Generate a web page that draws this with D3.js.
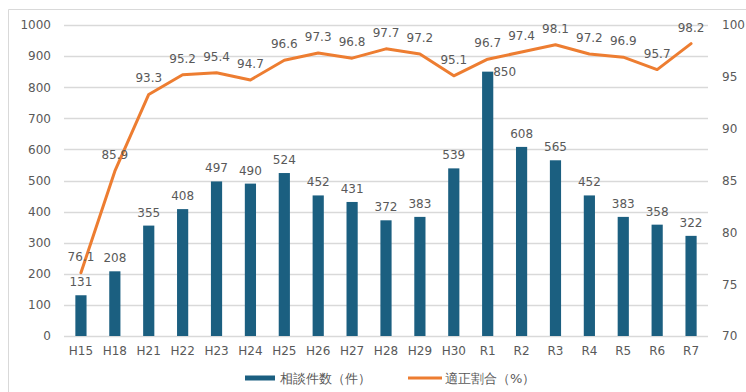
<!DOCTYPE html>
<html>
<head>
<meta charset="utf-8">
<script src="https://cdn.jsdelivr.net/npm/d3@7"></script>
<style>
  html, body { margin: 0; padding: 0; background: #fff; }
  svg { display: block; }
  text { font-family: "DejaVu Sans", Verdana, sans-serif; fill: #595959; }
</style>
</head>
<body>
<svg id="chart" width="746" height="392"></svg>
<script>
// Fiscal years
const categories = ["H15","H18","H21","H22","H23","H24","H25","H26","H27","H28","H29","H30","R1","R2","R3","R4","R5","R6","R7"];
// 相談件数（件）
const consultations = [131,208,355,408,497,490,524,452,431,372,383,539,850,608,565,452,383,358,322];
// 適正割合（%）
const properRate = [76.1,85.9,93.3,95.2,95.4,94.7,96.6,97.3,96.8,97.7,97.2,95.1,96.7,97.4,98.1,97.2,96.9,95.7,98.2];
const leftTicks = [0,100,200,300,400,500,600,700,800,900,1000];
const rightTicks = [70,75,80,85,90,95,100];
const seriesNames = ["相談件数（件）", "適正割合（%）"];

const svg = d3.select("#chart");
const W = 746, H = 392;
const m = { left: 64, right: 38, top: 25, bottom: 56 };
const plotW = W - m.left - m.right;   // 644
const plotH = H - m.top - m.bottom;   // 311

const barColor = "#1b5f80";
const lineColor = "#ed7d31";

// outer frame
svg.append("path")
  .attr("d", `M8.5,${H} V9.5 H${W}`)
  .attr("fill", "none").attr("stroke", "#d9d9d9").attr("stroke-width", 1);

const g = svg.append("g").attr("transform", `translate(${m.left},${m.top})`);

const x = d3.scaleBand().domain(categories).range([0, plotW]).paddingInner(0.67).paddingOuter(0.335);
const yL = d3.scaleLinear().domain([0, 1000]).range([plotH, 0]);
const yR = d3.scaleLinear().domain([70, 100]).range([plotH, 0]);
const cx = d => x(d) + x.bandwidth() / 2;

// gridlines
g.append("g").selectAll("line").data(leftTicks).join("line")
  .attr("x1", 0).attr("x2", plotW)
  .attr("y1", d => Math.round(yL(d)) + 0.5).attr("y2", d => Math.round(yL(d)) + 0.5)
  .attr("stroke", "#d9d9d9").attr("stroke-width", 1.3);

// left axis
const axL = g.append("g").call(d3.axisLeft(yL).tickValues(leftTicks).tickFormat(d3.format("d")).tickSize(0).tickPadding(13));
axL.select(".domain").remove();
axL.selectAll("text").attr("font-size", 12).style("fill", "#595959");

// right axis
const axR = g.append("g").attr("transform", `translate(${plotW},0)`)
  .call(d3.axisRight(yR).tickValues(rightTicks).tickFormat(d3.format("d")).tickSize(0).tickPadding(14));
axR.select(".domain").remove();
axR.selectAll("text").attr("font-size", 12).style("fill", "#595959");

// bottom axis
const axB = g.append("g").attr("transform", `translate(0,${plotH})`)
  .call(d3.axisBottom(x).tickSize(0).tickPadding(10));
axB.select(".domain").remove();
axB.selectAll("text").attr("font-size", 12).style("fill", "#595959");

// bars
g.append("g").selectAll("rect").data(categories).join("rect")
  .attr("x", d => x(d)).attr("width", x.bandwidth())
  .attr("y", (d, i) => yL(consultations[i]))
  .attr("height", (d, i) => plotH - yL(consultations[i]))
  .attr("fill", barColor);

// bar labels: above the bar, or beside it when the rate line runs just over the bar top
const crowded = i => Math.abs(yL(consultations[i]) - yR(properRate[i])) < 18;
g.append("g").selectAll("text").data(categories).join("text")
  .attr("x", (d, i) => crowded(i) ? cx(d) + 17 : cx(d))
  .attr("y", (d, i) => crowded(i) ? yL(consultations[i]) : yL(consultations[i]) - 9)
  .attr("dy", (d, i) => crowded(i) ? "0.35em" : null)
  .attr("text-anchor", "middle").attr("font-size", 12)
  .text((d, i) => consultations[i]);

// line
const line = d3.line().x(d => cx(d)).y((d, i) => yR(properRate[i]));
g.append("path").datum(categories)
  .attr("d", line)
  .attr("fill", "none").attr("stroke", lineColor).attr("stroke-width", 3)
  .attr("stroke-linejoin", "round").attr("stroke-linecap", "round");

// line labels
g.append("g").selectAll("text").data(categories).join("text")
  .attr("x", d => cx(d)).attr("y", (d, i) => yR(properRate[i]) - 12)
  .attr("text-anchor", "middle").attr("font-size", 12)
  .text((d, i) => properRate[i].toFixed(1));

// legend
const lg = svg.append("g").attr("transform", "translate(0,378)");
lg.append("line").attr("x1", 245).attr("x2", 275).attr("y1", 0).attr("y2", 0)
  .attr("stroke", barColor).attr("stroke-width", 5);
lg.append("text").attr("x", 280).attr("y", 0).attr("dy", "0.35em").attr("font-size", 13)
  .text(seriesNames[0]);
lg.append("line").attr("x1", 408).attr("x2", 442).attr("y1", 0).attr("y2", 0)
  .attr("stroke", lineColor).attr("stroke-width", 3);
lg.append("text").attr("x", 445).attr("y", 0).attr("dy", "0.35em").attr("font-size", 13)
  .text(seriesNames[1]);
</script>
</body>
</html>
